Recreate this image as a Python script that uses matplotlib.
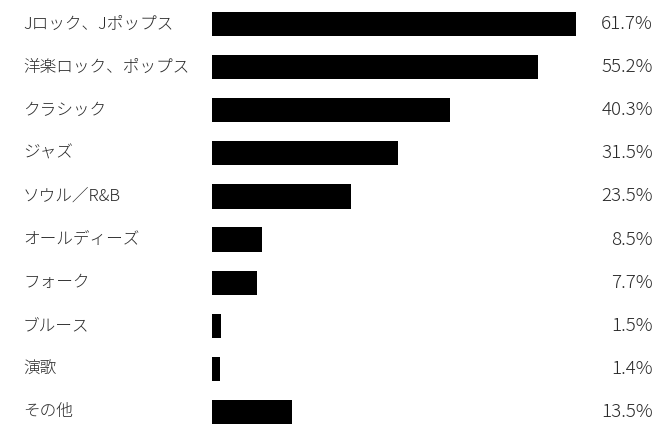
import matplotlib
matplotlib.use("Agg")
import matplotlib.pyplot as plt
from matplotlib.transforms import blended_transform_factory

plt.rcParams['font.family'] = ['Noto Sans CJK JP', 'DejaVu Sans']

genres = ["Jロック、Jポップス", "洋楽ロック、ポップス", "クラシック", "ジャズ", "ソウル／R&B",
          "オールディーズ", "フォーク", "ブルース", "演歌", "その他"]
shares = [61.7, 55.2, 40.3, 31.5, 23.5, 8.5, 7.7, 1.5, 1.4, 13.5]
share_labels = ["61.7%", "55.2%", "40.3%", "31.5%", "23.5%", "8.5%", "7.7%", "1.5%", "1.4%", "13.5%"]

fig = plt.figure(figsize=(6.53, 4.26), dpi=100)
ax = fig.add_axes([212 / 653, 0, (600 - 212) / 653, 1])

pos = list(range(len(genres)))
ax.barh(pos, shares, height=0.56, color="black")
ax.set_xlim(0, (600 - 212) / 5.9)
ax.set_ylim(9 + 14 / 43.1, -24 / 43.1)
ax.axis("off")

trans = blended_transform_factory(fig.transFigure, ax.transData)
for i, (g, s) in enumerate(zip(genres, share_labels)):
    ax.text(23 / 653, i, g, transform=trans, ha="left", va="center",
            fontsize=12, color="#2a2a2a", fontweight="light")
    ax.text(653 / 653, i, s, transform=trans, ha="right", va="center",
            fontsize=13.5, color="#2a2a2a", fontweight="light")

fig.savefig("out.png", dpi=100)
